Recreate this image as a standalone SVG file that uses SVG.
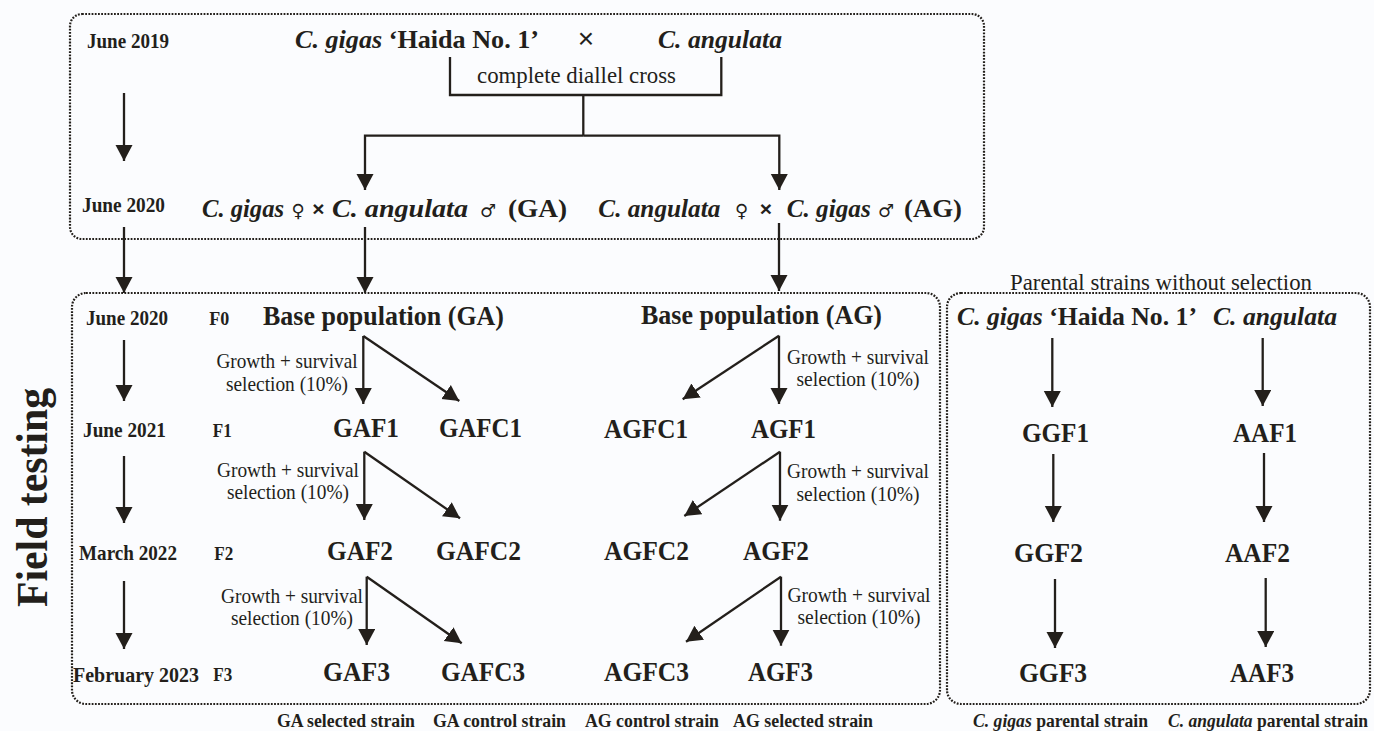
<svg xmlns="http://www.w3.org/2000/svg" width="1374" height="731" viewBox="0 0 1374 731">
<defs>
<style>
text{fill:#231f1b;font-family:"Liberation Serif","Times New Roman",serif}
.b{font-weight:bold}
.i{font-style:italic;font-weight:bold}
.r{font-weight:normal}
.sym{font-weight:normal;font-style:normal;font-size:18px;font-family:"DejaVu Sans","Liberation Serif",sans-serif}
.x{font-weight:bold;font-size:21px;font-family:"Liberation Sans",Arial,sans-serif}
.date{font-size:21px;font-weight:bold}
.gen{font-size:19.5px;font-weight:bold}
.big{font-size:28px;font-weight:bold}
.sp{font-size:26.2px;font-weight:bold}
.cr{font-size:26px;font-weight:bold}
.lab{font-size:21px}
.foot{font-size:18.5px;font-weight:bold}
.box{fill:none;stroke:#231f1b;stroke-width:2.2;stroke-dasharray:1.8 1.4}
.ln{fill:none;stroke:#231f1b;stroke-width:2.3}
.ar{fill:none;stroke:#231f1b;stroke-width:2.3;marker-end:url(#ah)}
</style>
<marker id="ah" markerUnits="userSpaceOnUse" markerWidth="18" markerHeight="18" refX="16" refY="8.5" orient="auto" viewBox="0 0 18 18">
<path d="M0,0 L16,8.5 L0,17 z" fill="#231f1b"/>
</marker>
</defs>
<rect width="1374" height="731" fill="#fbfcfe"/>

<g id="frames">
<rect class="box" x="70" y="14" width="914" height="225" rx="12"/>
<rect class="box" x="72" y="293" width="868" height="411" rx="14"/>
<rect class="box" x="947" y="293" width="423" height="411" rx="14"/>
</g>

<g id="connectors">
<line class="ar" x1="124" y1="93" x2="124" y2="161"/>
<path class="ln" d="M450,57 V95 H721.3 V57"/>
<path class="ln" d="M583.3,95 V135.7"/>
<path class="ar" d="M583.3,135.7 H365 V190"/>
<path class="ar" d="M583.3,135.7 H779.3 V190"/>
<line class="ar" x1="124" y1="227" x2="124" y2="293"/>
<line class="ar" x1="365" y1="227" x2="365" y2="293"/>
<line class="ar" x1="779" y1="223" x2="779" y2="291"/>

<line class="ar" x1="124" y1="340" x2="124" y2="401"/>
<line class="ar" x1="124" y1="456" x2="124" y2="523"/>
<line class="ar" x1="124" y1="581" x2="124" y2="649"/>

<line class="ar" x1="363.3" y1="336" x2="363.3" y2="404"/>
<line class="ar" x1="363.3" y1="336" x2="459.3" y2="401"/>
<line class="ar" x1="364.3" y1="451.7" x2="364.3" y2="520"/>
<line class="ar" x1="364.3" y1="451.7" x2="460" y2="518.3"/>
<line class="ar" x1="366.7" y1="576.7" x2="366.7" y2="645"/>
<line class="ar" x1="366.7" y1="576.7" x2="461.7" y2="643.3"/>

<line class="ar" x1="779" y1="335.7" x2="779" y2="404"/>
<line class="ar" x1="779" y1="335.7" x2="682.7" y2="399.3"/>
<line class="ar" x1="780" y1="451.7" x2="780" y2="520.7"/>
<line class="ar" x1="780" y1="451.7" x2="684.3" y2="516"/>
<line class="ar" x1="781" y1="576.7" x2="781" y2="645.7"/>
<line class="ar" x1="781" y1="576.7" x2="686" y2="641.7"/>

<line class="ar" x1="1052.3" y1="338" x2="1052.3" y2="407"/>
<line class="ar" x1="1053.3" y1="454" x2="1053.3" y2="522"/>
<line class="ar" x1="1055" y1="579" x2="1055" y2="648"/>
<line class="ar" x1="1262.7" y1="338" x2="1262.7" y2="406"/>
<line class="ar" x1="1264" y1="453" x2="1264" y2="522"/>
<line class="ar" x1="1265.7" y1="578" x2="1265.7" y2="647"/>
</g>

<g id="side-label">
<text class="b" font-size="44" text-anchor="middle" textLength="219" lengthAdjust="spacingAndGlyphs" transform="translate(46.5,497.5) rotate(-90)">Field testing</text>
</g>

<g id="dates">
<text class="date" x="87" y="48" textLength="82" lengthAdjust="spacingAndGlyphs">June 2019</text>
<text class="date" x="82" y="212" textLength="83" lengthAdjust="spacingAndGlyphs">June 2020</text>
<text class="date" x="86" y="325" textLength="82" lengthAdjust="spacingAndGlyphs">June 2020</text>
<text class="date" x="83" y="437" textLength="83" lengthAdjust="spacingAndGlyphs">June 2021</text>
<text class="date" x="79" y="560" textLength="98" lengthAdjust="spacingAndGlyphs">March 2022</text>
<text class="date" x="73" y="682" textLength="126" lengthAdjust="spacingAndGlyphs">February 2023</text>
</g>

<g id="generations">
<text class="gen" x="209.3" y="325" textLength="20" lengthAdjust="spacingAndGlyphs">F0</text>
<text class="gen" x="212.7" y="437" textLength="19" lengthAdjust="spacingAndGlyphs">F1</text>
<text class="gen" x="214.3" y="560" textLength="19" lengthAdjust="spacingAndGlyphs">F2</text>
<text class="gen" x="213.3" y="681" textLength="19" lengthAdjust="spacingAndGlyphs">F3</text>
</g>

<g id="parents-top">
<text class="sp" x="295" y="48" textLength="244" lengthAdjust="spacingAndGlyphs"><tspan class="i">C. gigas</tspan> ‘Haida No. 1’</text>
<text x="586" y="48" font-size="28" text-anchor="middle" style="font-family:'Liberation Sans',Arial,sans-serif">×</text>
<text class="sp" x="658" y="48" textLength="124" lengthAdjust="spacingAndGlyphs"><tspan class="i">C. angulata</tspan></text>
<text class="r" x="477" y="83" font-size="23" textLength="199" lengthAdjust="spacingAndGlyphs">complete diallel cross</text>
</g>

<g id="cross-GA">
<text class="cr i" x="202" y="217" textLength="82" lengthAdjust="spacingAndGlyphs">C. gigas</text>
<text class="sym" x="298" y="217" text-anchor="middle">♀</text>
<text class="x" x="318.5" y="216" text-anchor="middle">×</text>
<text class="cr i" x="332" y="217" textLength="136" lengthAdjust="spacingAndGlyphs">C. angulata</text>
<text class="sym" x="488" y="217" text-anchor="middle">♂</text>
<text class="cr" x="508" y="217" textLength="59" lengthAdjust="spacingAndGlyphs">(GA)</text>
</g>
<g id="cross-AG">
<text class="cr i" x="598.3" y="217" textLength="122" lengthAdjust="spacingAndGlyphs">C. angulata</text>
<text class="sym" x="741.7" y="217" text-anchor="middle">♀</text>
<text class="x" x="766" y="216" text-anchor="middle">×</text>
<text class="cr i" x="786.7" y="217" textLength="84" lengthAdjust="spacingAndGlyphs">C. gigas</text>
<text class="sym" x="886" y="217" text-anchor="middle">♂</text>
<text class="cr" x="904" y="217" textLength="58" lengthAdjust="spacingAndGlyphs">(AG)</text>
</g>

<g id="base-GA"><text class="big" x="263" y="325" textLength="241" lengthAdjust="spacingAndGlyphs">Base population (GA)</text></g>
<g id="base-AG"><text class="big" x="641" y="324" textLength="241" lengthAdjust="spacingAndGlyphs">Base population (AG)</text></g>

<g id="GAF1"><text class="big" x="333" y="437" textLength="66" lengthAdjust="spacingAndGlyphs">GAF1</text></g>
<g id="GAFC1"><text class="big" x="439" y="437" textLength="83" lengthAdjust="spacingAndGlyphs">GAFC1</text></g>
<g id="GAF2"><text class="big" x="327" y="560" textLength="66" lengthAdjust="spacingAndGlyphs">GAF2</text></g>
<g id="GAFC2"><text class="big" x="436" y="560" textLength="85" lengthAdjust="spacingAndGlyphs">GAFC2</text></g>
<g id="GAF3"><text class="big" x="323" y="681" textLength="67" lengthAdjust="spacingAndGlyphs">GAF3</text></g>
<g id="GAFC3"><text class="big" x="441" y="681" textLength="84" lengthAdjust="spacingAndGlyphs">GAFC3</text></g>

<g id="AGFC1"><text class="big" x="604" y="438" textLength="84" lengthAdjust="spacingAndGlyphs">AGFC1</text></g>
<g id="AGF1"><text class="big" x="751" y="438" textLength="65" lengthAdjust="spacingAndGlyphs">AGF1</text></g>
<g id="AGFC2"><text class="big" x="604" y="560" textLength="85" lengthAdjust="spacingAndGlyphs">AGFC2</text></g>
<g id="AGF2"><text class="big" x="743" y="560" textLength="66" lengthAdjust="spacingAndGlyphs">AGF2</text></g>
<g id="AGFC3"><text class="big" x="604" y="681" textLength="85" lengthAdjust="spacingAndGlyphs">AGFC3</text></g>
<g id="AGF3"><text class="big" x="748" y="681" textLength="65" lengthAdjust="spacingAndGlyphs">AGF3</text></g>

<g id="selection-labels">
<text class="lab" x="287" y="368" text-anchor="middle" textLength="141" lengthAdjust="spacingAndGlyphs">Growth + survival</text>
<text class="lab" x="287" y="391" text-anchor="middle" textLength="122" lengthAdjust="spacingAndGlyphs">selection (10%)</text>
<text class="lab" x="288" y="477" text-anchor="middle" textLength="142" lengthAdjust="spacingAndGlyphs">Growth + survival</text>
<text class="lab" x="288" y="499" text-anchor="middle" textLength="122" lengthAdjust="spacingAndGlyphs">selection (10%)</text>
<text class="lab" x="292" y="603" text-anchor="middle" textLength="142" lengthAdjust="spacingAndGlyphs">Growth + survival</text>
<text class="lab" x="292" y="625" text-anchor="middle" textLength="122" lengthAdjust="spacingAndGlyphs">selection (10%)</text>
<text class="lab" x="858" y="364" text-anchor="middle" textLength="142" lengthAdjust="spacingAndGlyphs">Growth + survival</text>
<text class="lab" x="858" y="386" text-anchor="middle" textLength="123" lengthAdjust="spacingAndGlyphs">selection (10%)</text>
<text class="lab" x="858" y="478" text-anchor="middle" textLength="142" lengthAdjust="spacingAndGlyphs">Growth + survival</text>
<text class="lab" x="858" y="501" text-anchor="middle" textLength="123" lengthAdjust="spacingAndGlyphs">selection (10%)</text>
<text class="lab" x="859" y="602" text-anchor="middle" textLength="143" lengthAdjust="spacingAndGlyphs">Growth + survival</text>
<text class="lab" x="859" y="624" text-anchor="middle" textLength="123" lengthAdjust="spacingAndGlyphs">selection (10%)</text>
</g>

<g id="parental-title"><text class="r" x="1010" y="290" font-size="23" textLength="302" lengthAdjust="spacingAndGlyphs">Parental strains without selection</text></g>
<g id="parent-gigas"><text class="sp" x="957" y="325" textLength="240" lengthAdjust="spacingAndGlyphs"><tspan class="i">C. gigas</tspan> ‘Haida No. 1’</text></g>
<g id="parent-angulata"><text class="sp" x="1213" y="325" textLength="124" lengthAdjust="spacingAndGlyphs"><tspan class="i">C. angulata</tspan></text></g>
<g id="GGF1"><text class="big" x="1022" y="442" textLength="67" lengthAdjust="spacingAndGlyphs">GGF1</text></g>
<g id="AAF1"><text class="big" x="1233" y="442" textLength="64" lengthAdjust="spacingAndGlyphs">AAF1</text></g>
<g id="GGF2"><text class="big" x="1014" y="562" textLength="69" lengthAdjust="spacingAndGlyphs">GGF2</text></g>
<g id="AAF2"><text class="big" x="1225" y="562" textLength="65" lengthAdjust="spacingAndGlyphs">AAF2</text></g>
<g id="GGF3"><text class="big" x="1019" y="682" textLength="68" lengthAdjust="spacingAndGlyphs">GGF3</text></g>
<g id="AAF3"><text class="big" x="1230" y="682" textLength="64" lengthAdjust="spacingAndGlyphs">AAF3</text></g>

<g id="footer">
<text class="foot" x="277" y="727" textLength="138" lengthAdjust="spacingAndGlyphs">GA selected strain</text>
<text class="foot" x="433" y="727" textLength="133" lengthAdjust="spacingAndGlyphs">GA control strain</text>
<text class="foot" x="585" y="727" textLength="134" lengthAdjust="spacingAndGlyphs">AG control strain</text>
<text class="foot" x="733" y="727" textLength="140" lengthAdjust="spacingAndGlyphs">AG selected strain</text>
<text class="foot" x="973" y="727" textLength="175" lengthAdjust="spacingAndGlyphs"><tspan class="i">C. gigas</tspan> parental strain</text>
<text class="foot" x="1168" y="727" textLength="200" lengthAdjust="spacingAndGlyphs"><tspan class="i">C. angulata</tspan> parental strain</text>
</g>
</svg>
